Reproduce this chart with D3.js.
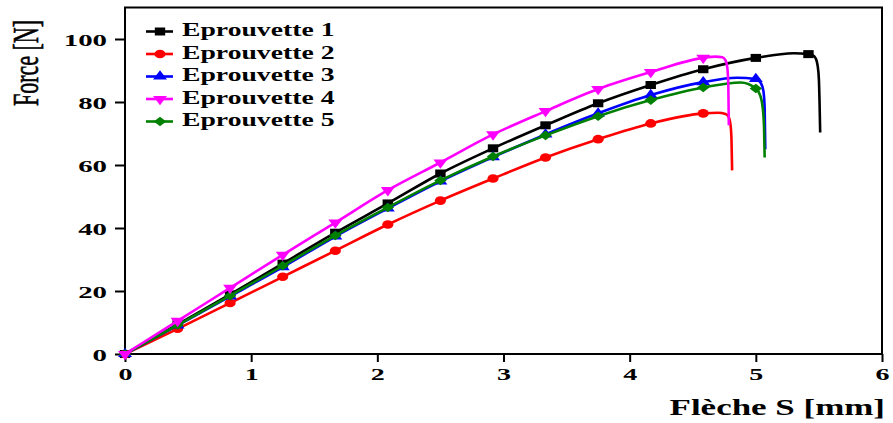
<!DOCTYPE html>
<html>
<head>
<meta charset="utf-8">
<script src="https://cdn.jsdelivr.net/npm/d3@7"></script>
<style>
  body { margin: 0; background: #fff; }
  svg { display: block; }
  text { font-family: "Liberation Serif", "Times New Roman", serif; fill: #000; }
</style>
</head>
<body>
<script>
//=========================== data ============================================

var seriesNames = ["Eprouvette 1", "Eprouvette 2", "Eprouvette 3", "Eprouvette 4", "Eprouvette 5"];

// abscissa of the markers [mm]
var xMarks = [0, 0.417, 0.833, 1.25, 1.667, 2.083, 2.5, 2.917, 3.333, 3.75, 4.167, 4.583, 5.0, 5.417];

// force at the markers [N]
var yEp1 = [0, 9.4, 18.9, 28.7, 38.5, 47.8, 57.3, 65.3, 72.6, 79.6, 85.4, 90.4, 94.0, 95.2];
var yEp2 = [0, 8.0, 16.2, 24.5, 32.8, 41.1, 48.7, 55.7, 62.4, 68.2, 73.2, 76.4];
var yEp3 = [0, 9.1, 18.3, 27.6, 37.3, 46.2, 54.8, 62.5, 69.7, 76.4, 82.2, 86.3, 87.3];
var yEp4 = [0, 10.5, 21.0, 31.5, 41.7, 52.0, 60.8, 69.7, 77.1, 84.1, 89.5, 94.0];
var yEp5 = [0, 9.2, 18.5, 28.0, 37.6, 46.5, 55.1, 62.7, 69.4, 75.5, 80.6, 84.6, 84.3];

// extra curve points without marker (peak and rupture)
var xtraEp1 = [[5.30, 95.5], [5.45, 94.9], [5.475, 93.8], [5.49, 91.5], [5.50, 87], [5.505, 80], [5.51, 70.3]];
var xtraEp2 = [[4.70, 76.6], [4.76, 76.2], [4.785, 75.2], [4.80, 72.5], [4.807, 68], [4.812, 58.3]];
var xtraEp3 = [[4.85, 87.7], [5.04, 86.0], [5.06, 83.5], [5.07, 78], [5.075, 65]];
var xtraEp4 = [[4.68, 94.4], [4.735, 94.2], [4.76, 93.2], [4.775, 90.5], [4.782, 85], [4.786, 72.6]];
var xtraEp5 = [[4.88, 86.2], [5.035, 82], [5.055, 78], [5.065, 72], [5.07, 62.4]];

var xTicks = [0, 1, 2, 3, 4, 5, 6];
var yTicks = [0, 20, 40, 60, 80, 100];

//=========================== styles ==========================================

var colors  = ["#000000", "#ff0000", "#0000ff", "#ff00ff", "#008000"];
var shapes  = ["square", "circle", "triUp", "triDown", "diamond"];
var drawOrder = [0, 1, 2, 4, 3];

//=========================== chart ===========================================

var width = 893, height = 423;

var svg = d3.select("body").append("svg")
    .attr("width", width)
    .attr("height", height);

var x = d3.scaleLinear().domain([0, 6]).range([125, 882]);
var y = d3.scaleLinear().domain([0, 110]).range([354, 7.5]);

var line = d3.line()
    .x(d => x(d[0]))
    .y(d => y(d[1]))
    .curve(d3.curveMonotoneX);

var yAll = [yEp1, yEp2, yEp3, yEp4, yEp5];
var xtraAll = [xtraEp1, xtraEp2, xtraEp3, xtraEp4, xtraEp5];

function markerPath(shape) {
    if (shape == "square")  return d3.symbol().type(d3.symbolSquare).size(64)();
    if (shape == "circle")  return d3.symbol().type(d3.symbolCircle).size(58)();
    if (shape == "diamond") return d3.symbol().type(d3.symbolSquare).size(46)();
    return d3.symbol().type(d3.symbolTriangle).size(50)();
}

function markerTransform(shape, px, py) {
    var t = "translate(" + px + "," + py + ") scale(1.3,1)";
    if (shape == "triDown") t += " rotate(180)";
    if (shape == "diamond") t += " rotate(45)";
    return t;
}

// plot frame
svg.append("rect")
    .attr("x", x(0)).attr("y", y(110))
    .attr("width", x(6) - x(0)).attr("height", y(0) - y(110))
    .attr("fill", "none")
    .attr("stroke", "#000")
    .attr("stroke-width", 2);

// x axis
var xAxis = svg.append("g")
    .attr("transform", "translate(0," + y(0) + ")")
    .call(d3.axisBottom(x).tickValues(xTicks).tickSize(8).tickFormat(""));
xAxis.select(".domain").remove();
xAxis.selectAll(".tick line").attr("stroke-width", 2);
xAxis.selectAll(".tick").append("text")
    .attr("transform", "translate(0,26) scale(1.65,1)")
    .attr("text-anchor", "middle")
    .style("font-size", "17px")
    .style("font-weight", "bold")
    .text(d => d);

// y axis
var yAxis = svg.append("g")
    .attr("transform", "translate(" + x(0) + ",0)")
    .call(d3.axisLeft(y).tickValues(yTicks).tickSize(10).tickFormat(""));
yAxis.select(".domain").remove();
yAxis.selectAll(".tick line").attr("stroke-width", 2);
yAxis.selectAll(".tick").append("text")
    .attr("transform", "translate(-18,6) scale(1.7,1)")
    .attr("text-anchor", "end")
    .style("font-size", "17px")
    .style("font-weight", "bold")
    .text(d => d);

// axis titles
svg.append("text")
    .attr("transform", "translate(885,415) scale(1.52,1)")
    .attr("text-anchor", "end")
    .style("font-size", "23px")
    .style("font-weight", "bold")
    .text("Flèche S [mm]");

svg.append("text")
    .attr("transform", "translate(38,63) rotate(-90) scale(1,1.6)")
    .attr("text-anchor", "middle")
    .style("font-size", "22px")
    .style("stroke", "#000")
    .style("stroke-width", 0.4)
    .text("Force [N]");

// curves
drawOrder.forEach(function(i) {
    var marks = yAll[i].map((v, k) => [xMarks[k], v]);
    var pts = marks.concat(xtraAll[i]).sort((a, b) => a[0] - b[0]);

    svg.append("path")
        .datum(pts)
        .attr("d", line)
        .attr("fill", "none")
        .attr("stroke", colors[i])
        .attr("stroke-width", 2.6)
        .attr("stroke-linejoin", "round");

    svg.append("g").selectAll("path")
        .data(marks)
        .join("path")
        .attr("d", markerPath(shapes[i]))
        .attr("transform", d => markerTransform(shapes[i], x(d[0]), y(d[1])))
        .attr("fill", colors[i]);
});

// legend
var legend = svg.append("g");
seriesNames.forEach(function(name, i) {
    var base = 36 + i * 22.5;
    var my = base - 4.5;
    legend.append("line")
        .attr("x1", 146).attr("x2", 173)
        .attr("y1", my).attr("y2", my)
        .attr("stroke", colors[i])
        .attr("stroke-width", 2.6);
    legend.append("path")
        .attr("d", markerPath(shapes[i]))
        .attr("transform", markerTransform(shapes[i], 160, my))
        .attr("fill", colors[i]);
    legend.append("text")
        .attr("transform", "translate(182," + base + ") scale(1.42,1)")
        .style("font-size", "19.5px")
        .style("font-weight", "bold")
        .text(name);
});
</script>
</body>
</html>
